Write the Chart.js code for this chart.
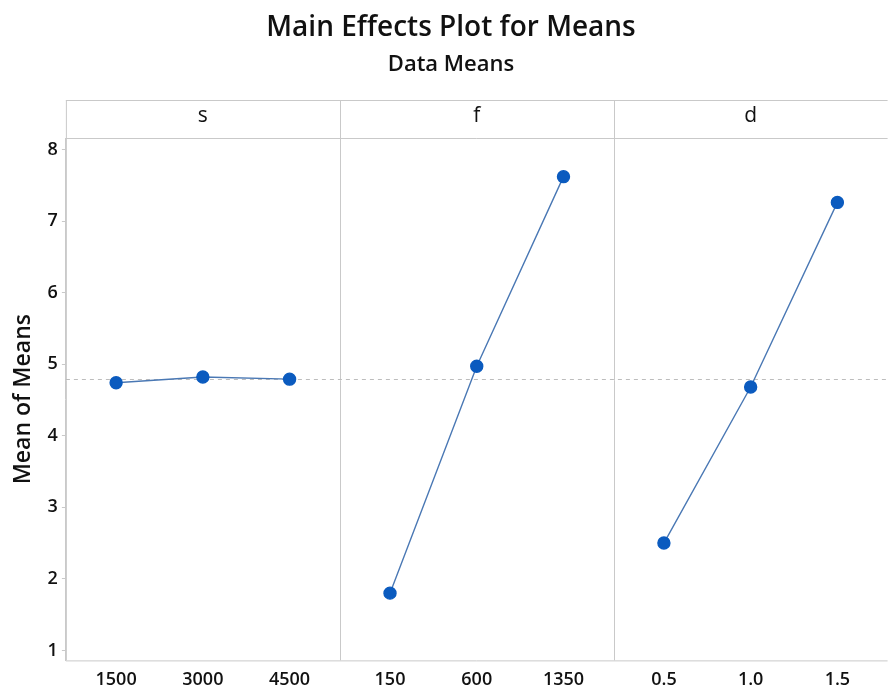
<!DOCTYPE html>
<html>
<head>
<meta charset="utf-8">
<script src="https://cdn.jsdelivr.net/npm/chart.js@4/dist/chart.umd.min.js"></script>
<style>
  html, body { margin: 0; padding: 0; background: #ffffff; }
  #wrap { width: 895px; height: 694px; }
</style>
</head>
<body>
<div id="wrap"><canvas id="c"></canvas></div>
<script>
// Factors and their levels
const factors = ['s', 'f', 'd'];
const sLevels = ['1500', '3000', '4500'];
const fLevels = ['150', '600', '1350'];
const dLevels = ['0.5', '1.0', '1.5'];

// Mean of means at each level
const sMeans = [4.74, 4.82, 4.79];
const fMeans = [1.80, 4.97, 7.62];
const dMeans = [2.50, 4.68, 7.26];

const yTicks = [1, 2, 3, 4, 5, 6, 7, 8];

// each factor gets a panel 3 units wide; levels sit inside it
const levelOffsets = [0.55, 1.5, 2.45];
const allLevels = [sLevels, fLevels, dLevels];
const allMeans = [sMeans, fMeans, dMeans];

const tickPos = [];
const tickText = {};
allLevels.forEach((lv, p) => lv.forEach((t, i) => {
  const x = p * 3 + levelOffsets[i];
  tickPos.push(x);
  tickText[x.toFixed(2)] = t;
}));

const grandMean = [].concat(...allMeans).reduce((a, b) => a + b, 0) / 9;

const datasets = allMeans.map((m, p) => ({
  label: factors[p],
  data: m.map((v, i) => ({ x: p * 3 + levelOffsets[i], y: v })),
  borderColor: '#4a78b4',
  borderWidth: 1.4,
  pointBackgroundColor: '#0b5bbf',
  pointBorderColor: '#0b5bbf',
  pointRadius: 6,
  pointHoverRadius: 6,
  tension: 0
}));

const font = "'Open Sans', 'Noto Sans', sans-serif";
const HEADER = 38;

// panel frames, factor header strip and grand-mean reference line
const panelPlugin = {
  id: 'panels',
  beforeDatasetsDraw(chart) {
    const { ctx, chartArea: a, scales } = chart;
    const xs = scales.x, ys = scales.y;
    ctx.save();
    ctx.strokeStyle = '#c9c9c9';
    ctx.lineWidth = 1;
    // header strip
    ctx.beginPath();
    ctx.moveTo(a.left, a.top - HEADER + 0.5);
    ctx.lineTo(a.right, a.top - HEADER + 0.5);
    ctx.moveTo(a.left, a.top + 0.5);
    ctx.lineTo(a.right, a.top + 0.5);
    ctx.moveTo(a.left, a.bottom + 0.5);
    ctx.lineTo(a.right, a.bottom + 0.5);
    for (let p = 1; p < 3; p++) {
      const x = Math.round(xs.getPixelForValue(p * 3)) + 0.5;
      ctx.moveTo(x, a.top - HEADER);
      ctx.lineTo(x, a.bottom);
    }
    ctx.moveTo(a.left + 0.5, a.top - HEADER);
    ctx.lineTo(a.left + 0.5, a.bottom);
    ctx.stroke();

    // grand mean
    const ym = Math.round(ys.getPixelForValue(grandMean)) + 0.5;
    ctx.strokeStyle = '#bdbdbd';
    ctx.setLineDash([4, 4]);
    ctx.beginPath();
    ctx.moveTo(a.left, ym);
    ctx.lineTo(a.right, ym);
    ctx.stroke();
    ctx.setLineDash([]);

    // factor names
    ctx.fillStyle = '#111';
    ctx.font = `500 21px ${font}`;
    ctx.textAlign = 'center';
    ctx.textBaseline = 'middle';
    factors.forEach((f, p) => {
      const x = (xs.getPixelForValue(p * 3) + xs.getPixelForValue(p * 3 + 3)) / 2;
      ctx.fillText(f, x, a.top - HEADER / 2 - 3);
    });
    ctx.restore();
  }
};

new Chart(document.getElementById('c'), {
  type: 'line',
  data: { datasets },
  plugins: [panelPlugin],
  options: {
    responsive: true,
    maintainAspectRatio: false,
    animation: false,
    layout: { padding: { left: 10, right: 3, top: 0, bottom: 0 } },
    plugins: {
      legend: { display: false },
      tooltip: { enabled: false },
      title: {
        display: true,
        text: 'Main Effects Plot for Means',
        color: '#111',
        font: { family: font, size: 28, weight: '600' },
        padding: { top: 11, bottom: 7 }
      },
      subtitle: {
        display: true,
        text: 'Data Means',
        color: '#111',
        font: { family: font, size: 22, weight: '600' },
        padding: { top: 0, bottom: 60 }
      }
    },
    scales: {
      x: {
        type: 'linear',
        min: 0,
        max: 9,
        afterBuildTicks(axis) { axis.ticks = tickPos.map(v => ({ value: v })); },
        ticks: {
          autoSkip: false,
          maxRotation: 0,
          color: '#111',
          font: { family: font, size: 18, weight: '600' },
          padding: 3,
          callback: v => tickText[Number(v).toFixed(2)]
        },
        grid: { display: false, drawTicks: true, tickLength: 6, color: '#c9c9c9' },
        border: { display: false }
      },
      y: {
        min: 0.86,
        max: 8.16,
        afterBuildTicks(axis) { axis.ticks = yTicks.map(v => ({ value: v })); },
        ticks: {
          color: '#111',
          font: { family: font, size: 18, weight: '600' },
          padding: 4
        },
        grid: { drawOnChartArea: false, drawTicks: true, tickLength: 4, color: '#c9c9c9' },
        border: { display: true, color: '#c9c9c9' },
        title: {
          display: true,
          text: 'Mean of Means',
          color: '#111',
          font: { family: font, size: 23, weight: '600' },
          padding: { top: 0, bottom: 6 }
        }
      }
    }
  }
});
</script>
</body>
</html>
